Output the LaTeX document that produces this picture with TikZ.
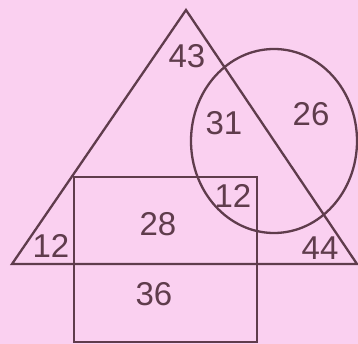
\documentclass[tikz,border=0pt]{standalone}
\usepackage{fontspec}
\setmainfont{Liberation Sans}
\definecolor{bg}{RGB}{250,208,240}
\definecolor{ink}{RGB}{95,60,76}
\begin{document}
\begin{tikzpicture}[x=1pt,y=-1pt,
  shape line/.style={draw=ink,line width=2.3pt,line join=miter},
  num/.style={text=ink,font=\fontsize{33}{33}\selectfont,inner sep=0pt}]
\fill[bg] (0,0) rectangle (358,344);
\useasboundingbox (0,0) rectangle (358,344);
\coordinate (apex) at (186,10);
\coordinate (bl) at (12,264);
\coordinate (br) at (357,264);
\draw[shape line] (apex) -- (bl) -- (br) -- cycle;
\draw[shape line] (74,177) rectangle (257,342);
\draw[shape line] (274,141) ellipse [x radius=83, y radius=92];
\node[num] (n43) at (187,56) {43};
\node[num] (n31) at (224,123) {31};
\node[num] (n26) at (311,114) {26};
\node[num] (n12a) at (233,196) {12};
\node[num] (n28) at (158,224) {28};
\node[num] (n12b) at (51,246) {12};
\node[num] (n44) at (320,248) {44};
\node[num] (n36) at (154,294) {36};
\end{tikzpicture}
\end{document}
